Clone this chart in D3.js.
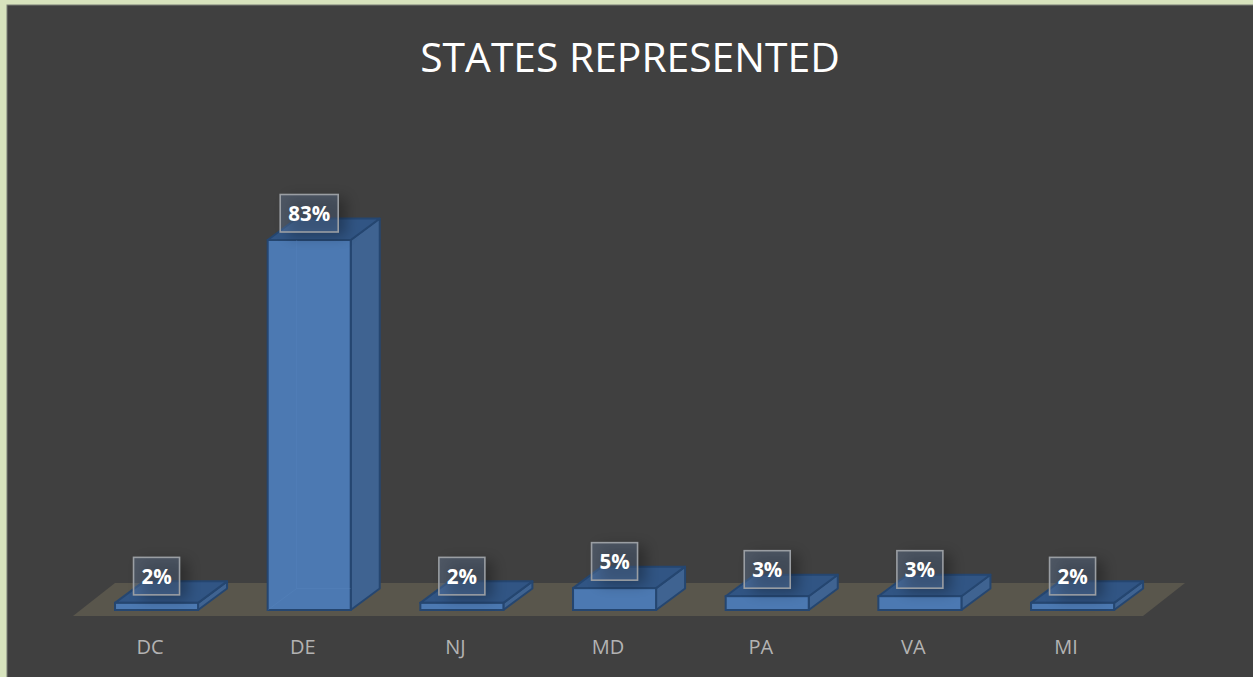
<!DOCTYPE html>
<html>
<head>
<meta charset="utf-8">
<script src="https://cdnjs.cloudflare.com/ajax/libs/d3/7.8.5/d3.min.js"></script>
<style>
html, body { margin: 0; padding: 0; background: #d7e3bd; overflow: hidden; }
svg { display: block; }
</style>
</head>
<body>
<div id="chart"></div>
<script>
// States represented: 3D-look column chart
const states = ["DC", "DE", "NJ", "MD", "PA", "VA", "MI"];
const shares = [1.6, 83, 1.6, 4.9, 3.1, 3.1, 1.6];

const width = 1253, height = 677;
const baseY = 610, topY = 240;
const depthX = 29, depthY = 21.5;

const svg = d3.select("#chart").append("svg")
  .attr("width", width)
  .attr("height", height);

const defs = svg.append("defs");
const blur = defs.append("filter").attr("id", "soft")
  .attr("x", "-50%").attr("y", "-50%").attr("width", "200%").attr("height", "200%");
blur.append("feGaussianBlur").attr("stdDeviation", 7);

// panel runs off the right and bottom edges
svg.append("rect")
  .attr("x", 7).attr("y", 5)
  .attr("width", 1260).attr("height", 690)
  .attr("fill", "#404040")
  .attr("stroke", "#7b7f76")
  .attr("stroke-width", 1);

svg.append("text")
  .attr("x", 630).attr("y", 72)
  .attr("text-anchor", "middle")
  .attr("fill", "#ffffff")
  .attr("font-family", "'Open Sans', sans-serif")
  .attr("font-size", 40.8)
  .text("STATES REPRESENTED");

const x = d3.scaleBand()
  .domain(states)
  .range([80.2, 1148.9])
  .paddingInner(0.456)
  .paddingOuter(0.228);

const y = d3.scaleLinear().domain([0, 83]).range([baseY, topY]);

// floor
const floor = d3.path();
floor.moveTo(73, 616);
floor.lineTo(1143, 616);
floor.lineTo(1185, 583);
floor.lineTo(115, 583);
floor.closePath();
svg.append("path").attr("d", floor.toString()).attr("fill", "#59564c");

const bars = svg.selectAll("g.bar")
  .data(states.map((s, i) => ({ state: s, v: shares[i] })))
  .join("g")
  .attr("class", "bar");

const w = x.bandwidth();
const line = pts => d3.line()(pts) + "Z";

// side face
bars.append("path")
  .attr("d", d => {
    const l = x(d.state) + w, t = y(d.v);
    return line([[l, t], [l + depthX, t - depthY], [l + depthX, baseY - depthY], [l, baseY]]);
  })
  .attr("fill", "#3f6391")
  .attr("stroke", "#254670")
  .attr("stroke-width", 2)
  .attr("stroke-linejoin", "round");

// top face
bars.append("path")
  .attr("d", d => {
    const l = x(d.state), t = y(d.v);
    return line([[l, t], [l + w, t], [l + w + depthX, t - depthY], [l + depthX, t - depthY]]);
  })
  .attr("fill", "#315584")
  .attr("stroke", "#254670")
  .attr("stroke-width", 2)
  .attr("stroke-linejoin", "round");

// front face
bars.append("rect")
  .attr("x", d => x(d.state))
  .attr("y", d => y(d.v))
  .attr("width", w)
  .attr("height", d => baseY - y(d.v))
  .attr("fill", "#4c79b2")
  .attr("stroke", "#254670")
  .attr("stroke-width", 2);

// back edges showing through the front face
bars.filter(d => d.v > 50).append("path")
  .attr("d", d => {
    const l = x(d.state), t = y(d.v);
    return `M${l + depthX},${t}V${baseY - depthY}H${l + w}M${l + depthX},${baseY - depthY}L${l},${baseY}`;
  })
  .attr("fill", "none")
  .attr("stroke", "#5a87bf")
  .attr("stroke-opacity", 0.3);

// data labels
const labels = svg.selectAll("g.label")
  .data(states.map((s, i) => ({ state: s, v: shares[i] })))
  .join("g")
  .attr("class", "label")
  .attr("transform", d => `translate(${x(d.state) + w / 2},${y(d.v) - 8})`);

const boxW = d => (d.v >= 10 ? 58 : 46);

labels.append("rect")
  .attr("x", d => -boxW(d) / 2 + 8)
  .attr("y", -34)
  .attr("width", boxW)
  .attr("height", 38)
  .attr("fill", "#000")
  .attr("opacity", 0.3)
  .attr("filter", "url(#soft)");

labels.append("rect")
  .attr("x", d => -boxW(d) / 2)
  .attr("y", -37.5)
  .attr("width", boxW)
  .attr("height", 37.5)
  .attr("fill", "#6f8fb8")
  .attr("fill-opacity", 0.3)
  .attr("stroke", "#9a9ea3")
  .attr("stroke-width", 1.6);

labels.append("text")
  .attr("y", -11)
  .attr("text-anchor", "middle")
  .attr("fill", "#ffffff")
  .attr("font-family", "'Open Sans', sans-serif")
  .attr("font-size", 20.5)
  .attr("font-weight", 700)
  .text(d => d3.format(".0f")(d.v) + "%");

// category axis, sits slightly left of the bars
const axis = svg.append("g")
  .attr("transform", "translate(-6.5,654)")
  .call(d3.axisBottom(x).tickSize(0).tickPadding(0));
axis.select(".domain").remove();
axis.selectAll("text")
  .attr("y", 0)
  .attr("dy", 0)
  .attr("fill", "#b3b3b3")
  .attr("font-family", "'Open Sans', sans-serif")
  .attr("font-size", 20);
</script>
</body>
</html>
